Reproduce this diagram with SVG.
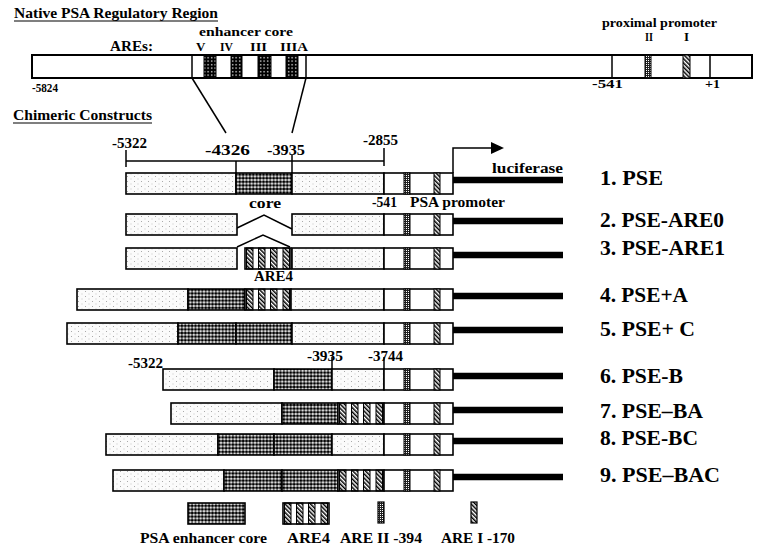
<svg xmlns="http://www.w3.org/2000/svg" xmlns:xlink="http://www.w3.org/1999/xlink" width="757" height="551" viewBox="0 0 757 551">
<style>
.t{font-family:"Liberation Serif","Times New Roman",serif;font-weight:bold;fill:#000}
.s13{font-size:13px}
.s14{font-size:14px}
.s21{font-size:21px}
.stip{fill:url(#stip);stroke:#000;stroke-width:1.6}
.core{fill:url(#core);stroke:#000;stroke-width:1.6}
.ln{stroke:#000;stroke-width:1.5;fill:none}
</style>
<defs>
<pattern id="stip" width="7" height="5" patternUnits="userSpaceOnUse">
<rect width="7" height="5" fill="#fbfbfb"/>
<rect x="1" y="1" width="1" height="1" fill="#aaa"/>
<rect x="4.5" y="3.5" width="1" height="1" fill="#c4c4c4"/>
</pattern>
<pattern id="core" width="3.4" height="3.6" patternUnits="userSpaceOnUse">
<rect width="3.4" height="3.6" fill="#fff"/>
<circle cx="1.7" cy="1.8" r="1.6" fill="#000"/>
</pattern>
<pattern id="dark" width="3.5" height="3.5" patternUnits="userSpaceOnUse">
<rect width="3.5" height="3.5" fill="#000"/>
<rect x="1" y="1" width="1.3" height="1.3" fill="#fff"/>
</pattern>
<pattern id="hatch" width="3" height="3" patternUnits="userSpaceOnUse" patternTransform="rotate(-45)">
<rect width="3" height="3" fill="#fff"/>
<rect width="1.5" height="3" fill="#000"/>
</pattern>
<pattern id="fine" width="2" height="2" patternUnits="userSpaceOnUse">
<rect width="2" height="2" fill="#222"/>
<rect width="1" height="1" fill="#fff"/>
</pattern>
<g id="are4">
<rect width="46" height="21" fill="#fff"/>
<rect x="1.5" width="6.5" height="21" fill="url(#hatch)" stroke="#000" stroke-width="1"/>
<rect x="13.5" width="6.5" height="21" fill="url(#hatch)" stroke="#000" stroke-width="1"/>
<rect x="25.5" width="6.5" height="21" fill="url(#hatch)" stroke="#000" stroke-width="1"/>
<rect x="38" width="6.5" height="21" fill="url(#hatch)" stroke="#000" stroke-width="1"/>
<rect width="46" height="21" fill="none" stroke="#000" stroke-width="1.6"/>
</g>
<g id="prom">
<line x1="68" y1="7" x2="179" y2="7" stroke="#000" stroke-width="6.5"/>
<rect width="69" height="21" fill="#fff" stroke="#000" stroke-width="1.6"/>
<rect x="20" width="6" height="21" fill="url(#fine)" stroke="#000" stroke-width="1"/>
<rect x="50" width="6" height="21" fill="url(#hatch)" stroke="#000" stroke-width="1"/>
</g>
</defs>
<rect width="757" height="551" fill="#fff"/>

<g id="native">
<text class="t s14" x="14" y="18" textLength="204" lengthAdjust="spacingAndGlyphs">Native PSA Regulatory Region</text>
<line x1="14" y1="21" x2="218" y2="21" stroke="#000" stroke-width="1.2"/>
<text class="t s13" x="199" y="36" textLength="94" lengthAdjust="spacingAndGlyphs">enhancer core</text>
<text class="t s14" x="110" y="51" textLength="43" lengthAdjust="spacingAndGlyphs">AREs:</text>
<text class="t s13" x="196" y="51">V</text>
<text class="t s13" x="220" y="51" textLength="13" lengthAdjust="spacingAndGlyphs">IV</text>
<text class="t s13" x="250" y="51" textLength="17" lengthAdjust="spacingAndGlyphs">III</text>
<text class="t s13" x="280" y="51" textLength="28" lengthAdjust="spacingAndGlyphs">IIIA</text>
<text class="t s13" x="602" y="27" textLength="115" lengthAdjust="spacingAndGlyphs">proximal promoter</text>
<text class="t s13" x="645" y="41" textLength="8" lengthAdjust="spacingAndGlyphs">II</text>
<text class="t s13" x="684" y="41">I</text>
<rect x="32" y="55" width="720" height="23" fill="#fff" stroke="#000" stroke-width="2"/>
<line x1="192" y1="55" x2="192" y2="78" class="ln"/>
<line x1="306" y1="55" x2="306" y2="78" class="ln"/>
<rect x="204" y="55" width="12" height="23" fill="url(#dark)" stroke="#000" stroke-width="1"/>
<rect x="231" y="55" width="11" height="23" fill="url(#dark)" stroke="#000" stroke-width="1"/>
<rect x="258" y="55" width="13" height="23" fill="url(#dark)" stroke="#000" stroke-width="1"/>
<rect x="286" y="55" width="12" height="23" fill="url(#dark)" stroke="#000" stroke-width="1"/>
<line x1="612" y1="55" x2="612" y2="78" class="ln"/>
<line x1="710" y1="55" x2="710" y2="78" class="ln"/>
<rect x="645" y="55" width="6" height="23" fill="url(#fine)" stroke="#000" stroke-width="1"/>
<rect x="683" y="55" width="7" height="23" fill="url(#hatch)" stroke="#000" stroke-width="1"/>
<text class="t s13" x="32" y="92" textLength="26" lengthAdjust="spacingAndGlyphs">-5824</text>
<text class="t s13" x="592" y="88" textLength="31" lengthAdjust="spacingAndGlyphs">-541</text>
<text class="t s13" x="705" y="88" textLength="15" lengthAdjust="spacingAndGlyphs">+1</text>
</g>

<g id="labels">
<text class="t s14" x="13" y="120" textLength="139" lengthAdjust="spacingAndGlyphs">Chimeric Constructs</text>
<line x1="13" y1="123" x2="152" y2="123" stroke="#000" stroke-width="1.2"/>
<text class="t s14" x="112" y="148" textLength="35" lengthAdjust="spacingAndGlyphs">-5322</text>
<text class="t s14" x="205" y="155" textLength="45" lengthAdjust="spacingAndGlyphs">-4326</text>
<text class="t s14" x="267" y="155" textLength="38" lengthAdjust="spacingAndGlyphs">-3935</text>
<text class="t s14" x="363" y="145" textLength="35" lengthAdjust="spacingAndGlyphs">-2855</text>
<text class="t s14" x="492" y="173" textLength="71" lengthAdjust="spacingAndGlyphs">luciferase</text>
<text class="t s14" x="372" y="207" textLength="25" lengthAdjust="spacingAndGlyphs">-541</text>
<text class="t s14" x="410" y="207" textLength="95" lengthAdjust="spacingAndGlyphs">PSA promoter</text>
<text class="t s14" x="249" y="208" textLength="32" lengthAdjust="spacingAndGlyphs">core</text>
<text class="t s14" x="254" y="281" textLength="39" lengthAdjust="spacingAndGlyphs">ARE4</text>
<text class="t s14" x="128" y="368" textLength="35" lengthAdjust="spacingAndGlyphs">-5322</text>
<text class="t s14" x="307" y="361" textLength="36" lengthAdjust="spacingAndGlyphs">-3935</text>
<text class="t s14" x="368" y="361" textLength="35" lengthAdjust="spacingAndGlyphs">-3744</text>
</g>

<g id="connectors">
<line x1="192" y1="78" x2="226" y2="133" class="ln"/>
<line x1="306" y1="78" x2="292" y2="133" class="ln"/>
<line x1="126" y1="161" x2="384" y2="161" class="ln"/>
<line x1="126" y1="150" x2="126" y2="167" class="ln"/>
<line x1="236" y1="161" x2="236" y2="173" class="ln"/>
<line x1="292" y1="155" x2="292" y2="173" class="ln"/>
<line x1="384" y1="148" x2="384" y2="166" class="ln"/>
<path d="M453,173 V148 H492" class="ln" stroke-width="1.8"/>
<polygon points="491,142 504,148 491,154" fill="#000"/>
<polyline points="237,228 264,215 292,229" class="ln"/>
<polyline points="237,247 263,235 290,247" class="ln"/>
<line x1="332" y1="357" x2="332" y2="369" class="ln"/>
<line x1="384" y1="357" x2="384" y2="369" class="ln"/>
</g>

<g id="c1">
<rect x="126" y="173" width="110" height="21" class="stip"/>
<rect x="236" y="173" width="56" height="21" class="core"/>
<rect x="292" y="173" width="92" height="21" class="stip"/>
<use xlink:href="#prom" href="#prom" transform="translate(384,173)"/>
<text class="t s21" x="600" y="185" textLength="63" lengthAdjust="spacingAndGlyphs">1. PSE</text>
</g>
<g id="c2">
<rect x="126" y="214" width="111" height="21" class="stip"/>
<rect x="292" y="214" width="92" height="21" class="stip"/>
<use xlink:href="#prom" href="#prom" transform="translate(384,214)"/>
<text class="t s21" x="600" y="227" textLength="124" lengthAdjust="spacingAndGlyphs">2. PSE-ARE0</text>
</g>
<g id="c3">
<rect x="126" y="248" width="111" height="21" class="stip"/>
<use xlink:href="#are4" href="#are4" transform="translate(245,248)"/>
<rect x="292" y="248" width="92" height="21" class="stip"/>
<use xlink:href="#prom" href="#prom" transform="translate(384,248)"/>
<text class="t s21" x="600" y="255" textLength="125" lengthAdjust="spacingAndGlyphs">3. PSE-ARE1</text>
</g>
<g id="c4">
<rect x="77" y="289" width="111" height="21" class="stip"/>
<rect x="188" y="289" width="57" height="21" class="core"/>
<use xlink:href="#are4" href="#are4" transform="translate(245,289)"/>
<rect x="291" y="289" width="93" height="21" class="stip"/>
<use xlink:href="#prom" href="#prom" transform="translate(384,289)"/>
<text class="t s21" x="600" y="302" textLength="88" lengthAdjust="spacingAndGlyphs">4. PSE+A</text>
</g>
<g id="c5">
<rect x="67" y="323" width="111" height="21" class="stip"/>
<rect x="178" y="323" width="58" height="21" class="core"/>
<rect x="236" y="323" width="56" height="21" class="core"/>
<rect x="292" y="323" width="92" height="21" class="stip"/>
<use xlink:href="#prom" href="#prom" transform="translate(384,323)"/>
<text class="t s21" x="600" y="336" textLength="95" lengthAdjust="spacingAndGlyphs">5. PSE+ C</text>
</g>
<g id="c6">
<rect x="163" y="369" width="111" height="21" class="stip"/>
<rect x="274" y="369" width="58" height="21" class="core"/>
<rect x="332" y="369" width="52" height="21" class="stip"/>
<use xlink:href="#prom" href="#prom" transform="translate(384,369)"/>
<text class="t s21" x="600" y="383" textLength="83" lengthAdjust="spacingAndGlyphs">6. PSE-B</text>
</g>
<g id="c7">
<rect x="171" y="403" width="111" height="21" class="stip"/>
<rect x="282" y="403" width="56" height="21" class="core"/>
<use xlink:href="#are4" href="#are4" transform="translate(338,403)"/>
<use xlink:href="#prom" href="#prom" transform="translate(384,403)"/>
<text class="t s21" x="600" y="418" textLength="103" lengthAdjust="spacingAndGlyphs">7. PSE–BA</text>
</g>
<g id="c8">
<rect x="106" y="434" width="112" height="21" class="stip"/>
<rect x="218" y="434" width="56" height="21" class="core"/>
<rect x="274" y="434" width="58" height="21" class="core"/>
<rect x="332" y="434" width="52" height="21" class="stip"/>
<use xlink:href="#prom" href="#prom" transform="translate(384,434)"/>
<text class="t s21" x="600" y="445" textLength="98" lengthAdjust="spacingAndGlyphs">8. PSE-BC</text>
</g>
<g id="c9">
<rect x="113" y="470" width="111" height="21" class="stip"/>
<rect x="224" y="470" width="58" height="21" class="core"/>
<rect x="282" y="470" width="56" height="21" class="core"/>
<use xlink:href="#are4" href="#are4" transform="translate(338,470)"/>
<use xlink:href="#prom" href="#prom" transform="translate(384,470)"/>
<text class="t s21" x="600" y="482" textLength="120" lengthAdjust="spacingAndGlyphs">9. PSE–BAC</text>
</g>

<g id="legend-core">
<rect x="188" y="503" width="57" height="21" class="core"/>
<text class="t s14" x="140" y="543" textLength="127" lengthAdjust="spacingAndGlyphs">PSA enhancer core</text>
</g>
<g id="legend-are4">
<use xlink:href="#are4" href="#are4" transform="translate(283,503)"/>
<text class="t s14" x="287" y="543" textLength="43" lengthAdjust="spacingAndGlyphs">ARE4</text>
</g>
<g id="legend-areII">
<rect x="378" y="502" width="6" height="21" fill="url(#fine)" stroke="#000" stroke-width="1.2"/>
<text class="t s14" x="340" y="543" textLength="82" lengthAdjust="spacingAndGlyphs">ARE II -394</text>
</g>
<g id="legend-areI">
<rect x="471" y="502" width="6" height="21" fill="url(#hatch)" stroke="#000" stroke-width="1.2"/>
<text class="t s14" x="441" y="543" textLength="74" lengthAdjust="spacingAndGlyphs">ARE I -170</text>
</g>
</svg>
